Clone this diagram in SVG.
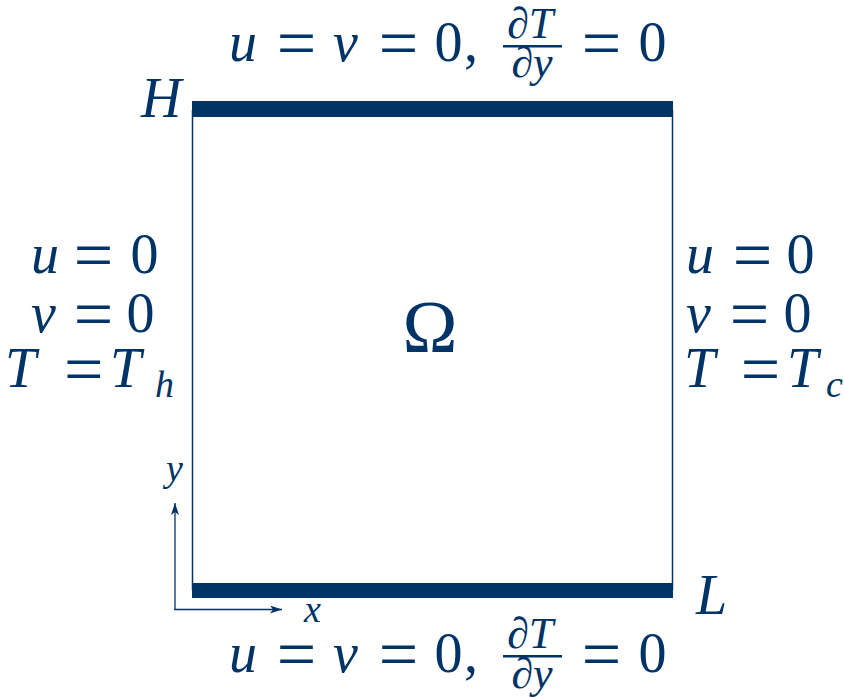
<svg xmlns="http://www.w3.org/2000/svg" width="844" height="698" viewBox="0 0 844 698">
<defs>
<style>
.m{font-family:"Liberation Serif",serif;font-style:italic;font-size:56px;fill:#003366}
.r{font-style:normal}
.eq{font-style:normal;font-size:70px}
.f{font-size:44px}
.s{font-size:38px}
.big{font-size:74px}
.wall{fill:#003366}
.edge{stroke:#003366;stroke-width:1.5;fill:none}
.ax{stroke:#003366;stroke-width:1.3;fill:none}
</style>
<marker id="ah" viewBox="0 0 12 8" refX="12" refY="4" markerWidth="12" markerHeight="8" markerUnits="userSpaceOnUse" orient="auto">
<path d="M0,0 L12,4 L0,8 L3,4 Z" fill="#003366"/>
</marker>
</defs>
<rect width="844" height="698" fill="#ffffff"/>

<g id="domain">
<line class="edge" x1="192.5" y1="110" x2="192.5" y2="590"/>
<line class="edge" x1="672.5" y1="110" x2="672.5" y2="590"/>
<rect class="wall" x="192" y="101" width="481" height="16"/>
<rect class="wall" x="192" y="583" width="481" height="15"/>
</g>

<g id="omega">
<text class="m r big" x="430" y="352" text-anchor="middle">Ω</text>
</g>

<g id="label-H">
<text class="m" x="141" y="117">H</text>
</g>
<g id="label-L">
<text class="m" x="696" y="614">L</text>
</g>

<g id="top-bc">
<text class="m"><tspan x="229" y="61">u</tspan><tspan class="eq" x="276.7" y="67">=</tspan><tspan x="333" y="61">v</tspan><tspan class="eq" x="378.7" y="67">=</tspan><tspan class="r" x="434.5" y="61">0</tspan><tspan class="r" x="464" y="61">,</tspan><tspan class="eq" x="581.7" y="67">=</tspan><tspan class="r" x="638.5" y="61">0</tspan></text>
<text class="m f" x="530" y="38" text-anchor="middle">∂T</text>
<rect class="wall" x="503" y="45" width="59" height="2.5"/>
<text class="m f" x="532" y="77" text-anchor="middle">∂y</text>
</g>

<g id="bottom-bc">
<text class="m"><tspan x="229" y="672">u</tspan><tspan class="eq" x="276.7" y="678">=</tspan><tspan x="333" y="672">v</tspan><tspan class="eq" x="378.7" y="678">=</tspan><tspan class="r" x="434.5" y="672">0</tspan><tspan class="r" x="464" y="672">,</tspan><tspan class="eq" x="581.7" y="678">=</tspan><tspan class="r" x="638.5" y="672">0</tspan></text>
<text class="m f" x="530" y="648" text-anchor="middle">∂T</text>
<rect class="wall" x="503" y="655" width="59" height="2.5"/>
<text class="m f" x="532" y="688" text-anchor="middle">∂y</text>
</g>

<g id="left-bc">
<text class="m"><tspan x="31" y="273">u</tspan><tspan class="eq" x="73.7" y="279">=</tspan><tspan class="r" x="130.5" y="273">0</tspan></text>
<text class="m"><tspan x="31" y="332">v</tspan><tspan class="eq" x="73.7" y="338">=</tspan><tspan class="r" x="126.5" y="332">0</tspan></text>
<text class="m"><tspan x="5" y="387">T</tspan><tspan class="eq" x="64" y="393">=</tspan><tspan x="110" y="387">T</tspan><tspan class="s" x="155" y="397">h</tspan></text>
</g>

<g id="right-bc">
<text class="m"><tspan x="686" y="273">u</tspan><tspan class="eq" x="732.7" y="279">=</tspan><tspan class="r" x="786.5" y="273">0</tspan></text>
<text class="m"><tspan x="686" y="332">v</tspan><tspan class="eq" x="729.7" y="338">=</tspan><tspan class="r" x="783.5" y="332">0</tspan></text>
<text class="m"><tspan x="684" y="387">T</tspan><tspan class="eq" x="740.7" y="393">=</tspan><tspan x="787" y="387">T</tspan><tspan class="s" x="826" y="397">c</tspan></text>
</g>

<g id="axis-labels">
<text class="m s" x="166" y="481">y</text>
<text class="m s" x="304" y="622">x</text>
</g>

<g id="connectors">
<line class="ax" x1="175" y1="610" x2="175" y2="503" marker-end="url(#ah)"/>
<line class="ax" x1="174.4" y1="609.5" x2="282" y2="609.5" marker-end="url(#ah)"/>
</g>
</svg>
